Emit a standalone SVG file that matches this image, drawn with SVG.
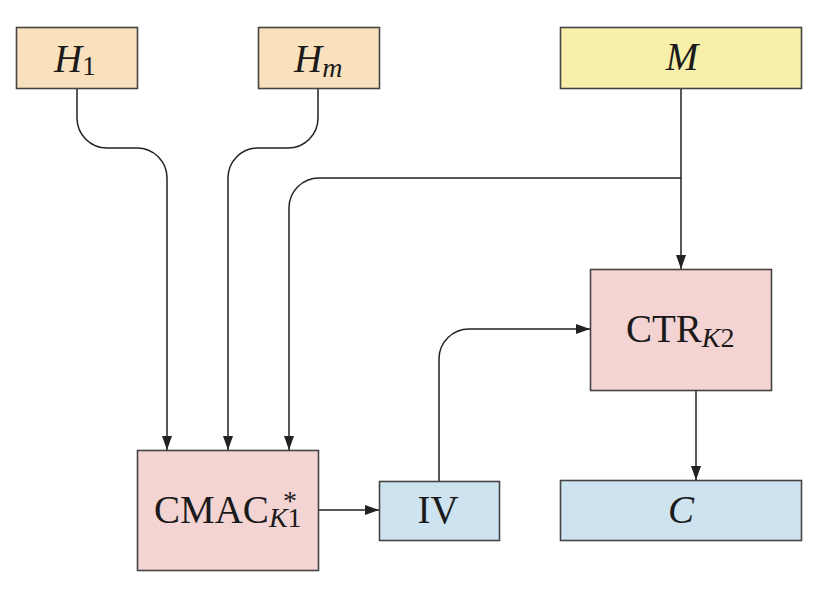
<svg xmlns="http://www.w3.org/2000/svg" width="820" height="600" viewBox="0 0 820 600">
<style>
.box{stroke:#444;stroke-width:1.6}
.h{fill:#FAE1BD}
.m{fill:#F8F0AA}
.p{fill:#F4D3D3}
.b{fill:#CDE3F0}
.t{font-family:"Liberation Serif","Times New Roman",serif;font-size:39px;fill:#1a1a1a}
.i{font-style:italic}
.c{fill:none;stroke:#222;stroke-width:1.5}
</style>
<defs>
<marker id="ah" markerUnits="userSpaceOnUse" markerWidth="14" markerHeight="10" refX="14" refY="5" orient="auto">
<path d="M0,0 L14,5 L0,10 z" fill="#222"/>
</marker>
</defs>
<rect width="820" height="600" fill="#fff"/>
<g id="connectors">
<path class="c" d="M77,88 V118 A30,30 0 0 0 107,148 H137 A30,30 0 0 1 167,178 V450" marker-end="url(#ah)"/>
<path class="c" d="M318,88 V118 A30,30 0 0 1 288,148 H258 A30,30 0 0 0 228,178 V450" marker-end="url(#ah)"/>
<path class="c" d="M681,88 V269" marker-end="url(#ah)"/>
<path class="c" d="M681,178 H319 A30,30 0 0 0 289,208 V450" marker-end="url(#ah)"/>
<path class="c" d="M319,510 H379" marker-end="url(#ah)"/>
<path class="c" d="M439,481 V359 A30,30 0 0 1 469,329 H590" marker-end="url(#ah)"/>
<path class="c" d="M696,390 V480" marker-end="url(#ah)"/>
</g>
<g id="H1">
<rect class="box h" x="16.5" y="27.5" width="121" height="61"/>
<text class="t" x="54" y="72"><tspan class="i">H</tspan><tspan font-size="27" dy="3">1</tspan></text>
</g>
<g id="Hm">
<rect class="box h" x="258.5" y="27.5" width="121" height="61"/>
<text class="t" x="294" y="72"><tspan class="i">H</tspan><tspan class="i" font-size="28" dy="5">m</tspan></text>
</g>
<g id="M">
<rect class="box m" x="560.5" y="27.5" width="241" height="61"/>
<text class="t i" x="682" y="70" text-anchor="middle">M</text>
</g>
<g id="CMAC">
<rect class="box p" x="137.5" y="450.5" width="181" height="120"/>
<text class="t" x="154" y="523">CMAC<tspan class="i" font-size="28" dy="4">K</tspan><tspan font-size="28">1</tspan><tspan x="283" dy="-17" font-size="28">*</tspan></text>
</g>
<g id="IV">
<rect class="box b" x="379.5" y="481.5" width="120" height="59"/>
<text class="t" x="438" y="523" text-anchor="middle">IV</text>
</g>
<g id="CTR">
<rect class="box p" x="590.5" y="269.5" width="181" height="121"/>
<text class="t" x="626" y="342">CTR<tspan class="i" font-size="28" dy="5">K</tspan><tspan font-size="28">2</tspan></text>
</g>
<g id="C">
<rect class="box b" x="560.5" y="480.5" width="241" height="60"/>
<text class="t i" x="681" y="523" text-anchor="middle">C</text>
</g>
</svg>
